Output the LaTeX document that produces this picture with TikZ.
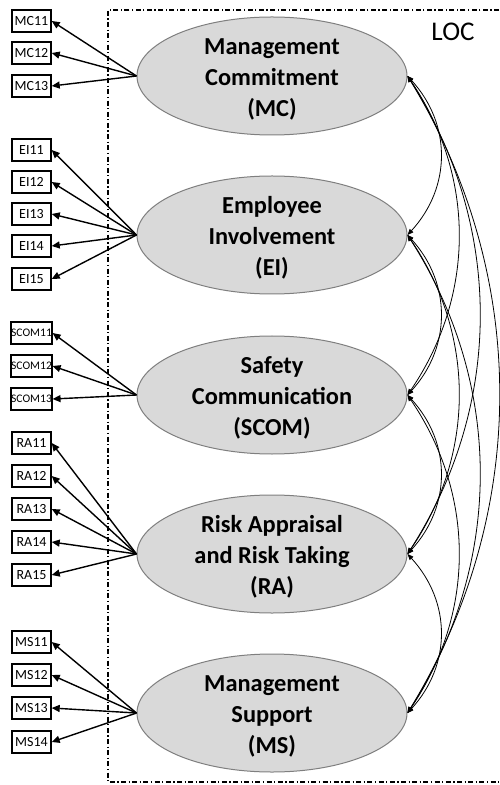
\documentclass[tikz,border=0pt]{standalone}
\usepackage{fontspec}
\setmainfont{Carlito}
\usetikzlibrary{arrows.meta,shapes.geometric}
\definecolor{latentfill}{HTML}{D9D9D9}
\definecolor{latentedge}{HTML}{7F7F7F}
\begin{document}
\begin{tikzpicture}[x=0.5pt,y=-0.5pt,
  latent/.style={ellipse,draw=latentedge,line width=0.5pt,fill=latentfill,
    minimum width=135pt,minimum height=59pt,inner sep=0pt},
  latenttext/.style={font=\bfseries\fontsize{12.2}{15.5}\selectfont,align=center,inner sep=0pt,yshift=-1.5pt},
  item/.style={rectangle,draw,line width=0.7pt,minimum width=19.5pt,minimum height=11pt,
    inner sep=0pt,font=\fontsize{7}{8}\selectfont},
  smallitem/.style={item,font=\fontsize{5.8}{7}\selectfont},
  load/.style={line width=0.7pt,-{Triangle[length=4pt,width=3.5pt]}},
  cov/.style={line width=0.4pt,{Triangle[length=3pt,width=2.4pt]}-{Triangle[length=3pt,width=2.4pt]}},
  frameline/.style={line width=0.6pt,dash pattern=on 2.5pt off 1.25pt on 0.6pt off 1.25pt}]
\useasboundingbox (0,0) rectangle (499,785);

% boundary of the latent construct
\draw[frameline] (499,10) -- (108,10) -- (108,782) -- (499,782);
\node[font=\fontsize{13.5}{15}\selectfont,inner sep=0pt] (loc) at (453,32) {LOC};

% latent factors
\node[latent,label={[latenttext]center:Management\\Commitment\\(MC)}] (MC) at (272,76) {};
\node[latent,label={[latenttext]center:Employee\\Involvement\\(EI)}] (EI) at (272,235) {};
\node[latent,label={[latenttext]center:Safety\\Communication\\(SCOM)}] (SCOM) at (272,395) {};
\node[latent,label={[latenttext]center:Risk Appraisal\\and Risk Taking\\(RA)}] (RA) at (272,554) {};
\node[latent,label={[latenttext]center:Management\\Support\\(MS)}] (MS) at (272,713) {};

% indicators
\node[item] (MC11) at (31.5,21) {MC11};
\node[item] (MC12) at (31.5,53) {MC12};
\node[item] (MC13) at (31.5,86) {MC13};

\node[item] (EI11) at (31.5,150) {EI11};
\node[item] (EI12) at (31.5,182) {EI12};
\node[item] (EI13) at (31.5,214) {EI13};
\node[item] (EI14) at (31.5,246) {EI14};
\node[item] (EI15) at (31.5,279) {EI15};

\node[smallitem] (SCOM11) at (31.5,333) {SCOM11};
\node[smallitem] (SCOM12) at (31.5,366) {SCOM12};
\node[smallitem] (SCOM13) at (31.5,399) {SCOM13};

\node[item] (RA11) at (31.5,443) {RA11};
\node[item] (RA12) at (31.5,476) {RA12};
\node[item] (RA13) at (31.5,509) {RA13};
\node[item] (RA14) at (31.5,542) {RA14};
\node[item] (RA15) at (31.5,575) {RA15};

\node[item] (MS11) at (31.5,642) {MS11};
\node[item] (MS12) at (31.5,675) {MS12};
\node[item] (MS13) at (31.5,708) {MS13};
\node[item] (MS14) at (31.5,742) {MS14};

% loadings
\foreach \f/\list in {MC/{MC11,MC12,MC13},EI/{EI11,EI12,EI13,EI14,EI15},
    SCOM/{SCOM11,SCOM12,SCOM13},RA/{RA11,RA12,RA13,RA14,RA15},MS/{MS11,MS12,MS13,MS14}}
  \foreach \i in \list
    \draw[load] (\f.west) -- (\i.east);

% covariances between factors
\newcommand\covpath[4]{\draw[cov] (#1.east) .. controls +(#3,#4) and +(#3,-#4) .. (#2.east);}
\covpath{MC}{EI}{44}{48}
\covpath{EI}{SCOM}{44}{48}
\covpath{SCOM}{RA}{44}{48}
\covpath{RA}{MS}{44}{48}
\covpath{MC}{SCOM}{68}{100}
\covpath{EI}{RA}{68}{100}
\covpath{SCOM}{MS}{68}{100}
\covpath{MC}{RA}{96}{150}
\covpath{EI}{MS}{96}{150}
\covpath{MC}{MS}{122}{200}
\end{tikzpicture}
\end{document}
